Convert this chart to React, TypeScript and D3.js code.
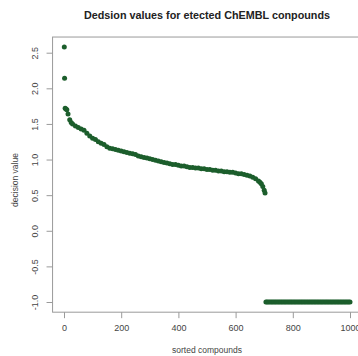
import { useEffect, useRef } from "react";
import * as d3 from "d3";

// sorted decision values (one every ~10 ranks)
const curveRanks = [
  1, 2, 4, 7, 10, 14, 20, 25, 30, 40, 50, 60, 70, 80, 90, 100, 110, 120, 130,
  140, 150, 160, 170, 180, 190, 200, 210, 220, 230, 240, 250, 260, 270, 280,
  290, 300, 310, 320, 330, 340, 350, 360, 370, 380, 390, 400, 410, 420, 430,
  440, 450, 460, 470, 480, 490, 500, 510, 520, 530, 540, 550, 560, 570, 580,
  590, 600, 610, 620, 630, 640, 650, 660, 670, 680, 685, 690, 695, 700, 703,
];
const curveValues = [
  2.58, 2.14, 1.72, 1.71, 1.7, 1.64, 1.56, 1.52, 1.5, 1.47, 1.45, 1.43, 1.41,
  1.37, 1.33, 1.3, 1.28, 1.25, 1.23, 1.21, 1.18, 1.16, 1.15, 1.14, 1.13, 1.12,
  1.11, 1.1, 1.09, 1.08, 1.07, 1.05, 1.04, 1.03, 1.02, 1.01, 1.0, 0.99, 0.98,
  0.97, 0.96, 0.95, 0.94, 0.93, 0.93, 0.92, 0.91, 0.91, 0.9, 0.89, 0.89, 0.88,
  0.88, 0.87, 0.87, 0.86, 0.86, 0.85, 0.85, 0.84, 0.84, 0.83, 0.83, 0.82, 0.82,
  0.81, 0.8, 0.8, 0.79, 0.78, 0.77, 0.75, 0.73, 0.7, 0.68, 0.66, 0.62, 0.57,
  0.53,
];
// compounds that got the floor value
const tailRanks = [
  706, 710, 715, 720, 725, 730, 735, 740, 745, 750, 755, 760, 765, 770, 775,
  780, 785, 790, 795, 800, 805, 810, 815, 820, 825, 830, 835, 840, 845, 850,
  855, 860, 865, 870, 875, 880, 885, 890, 895, 900, 905, 910, 915, 920, 925,
  930, 935, 940, 945, 950, 955, 960, 965, 970, 975, 980, 985, 990, 995, 1000,
];
const tailValues = [
  -1, -1, -1, -1, -1, -1, -1, -1, -1, -1, -1, -1, -1, -1, -1, -1, -1, -1, -1,
  -1, -1, -1, -1, -1, -1, -1, -1, -1, -1, -1, -1, -1, -1, -1, -1, -1, -1, -1,
  -1, -1, -1, -1, -1, -1, -1, -1, -1, -1, -1, -1, -1, -1, -1, -1, -1, -1, -1,
  -1, -1, -1,
];
const xTicks = [0, 200, 400, 600, 800, 1000];
const yTicks = [-1, -0.5, 0, 0.5, 1, 1.5, 2, 2.5];

const App = () => {
  const svgRef = useRef<SVGSVGElement>(null);

  useEffect(() => {
    const width = 358;
    const height = 356;
    const svg = d3.select(svgRef.current);
    svg.selectAll("*").remove();
    svg.attr("width", width).attr("height", height);

    const font = "'Liberation Sans', Arial, Helvetica, sans-serif";
    const x = d3.scaleLinear().domain([0, 1000]).range([64, 350]);
    const y = d3.scaleLinear().domain([-1, 2.5]).range([302, 52.7]);

    const left = x(-40);
    const right = x(1040);
    const top = y(2.72);
    const bottom = y(-1.143);

    svg
      .append("rect")
      .attr("width", width)
      .attr("height", height)
      .attr("fill", "#fff");

    // plot box
    svg
      .append("rect")
      .attr("x", left)
      .attr("y", top)
      .attr("width", right - left)
      .attr("height", bottom - top)
      .attr("fill", "none")
      .attr("stroke", "#9a9a9a")
      .attr("stroke-width", 1);

    // x axis
    const xAxis = svg
      .append("g")
      .attr("transform", `translate(0,${bottom})`)
      .call(
        d3
          .axisBottom(x)
          .tickValues(xTicks)
          .tickSize(6)
          .tickPadding(6)
          .tickFormat((d) => String(d))
      );
    xAxis.select(".domain").remove();
    xAxis.selectAll("line").attr("stroke", "#9a9a9a");
    xAxis
      .selectAll("text")
      .attr("fill", "#444")
      .style("font-family", font)
      .style("font-size", "9px");

    // y axis, labels rotated like base R
    const yAxis = svg
      .append("g")
      .attr("transform", `translate(${left},0)`)
      .call(
        d3
          .axisLeft(y)
          .tickValues(yTicks)
          .tickSize(6)
          .tickFormat((d) => (+d).toFixed(1))
      );
    yAxis.select(".domain").remove();
    yAxis.selectAll("line").attr("stroke", "#9a9a9a");
    yAxis
      .selectAll("text")
      .attr("x", 0)
      .attr("dy", null)
      .attr("text-anchor", "middle")
      .attr("transform", "translate(-15,0) rotate(-90)")
      .attr("fill", "#444")
      .style("font-family", font)
      .style("font-size", "9px");

    // points
    const points = curveRanks
      .map((r, i) => ({ r, v: curveValues[i] }))
      .concat(tailRanks.map((r, i) => ({ r, v: tailValues[i] })));

    svg
      .append("g")
      .selectAll("circle")
      .data(points)
      .enter()
      .append("circle")
      .attr("cx", (d) => x(d.r))
      .attr("cy", (d) => y(d.v))
      .attr("r", 2.5)
      .attr("fill", "#1c5e2c");

    // titles
    svg
      .append("text")
      .attr("x", 207)
      .attr("y", 19)
      .attr("text-anchor", "middle")
      .attr("textLength", 246)
      .attr("lengthAdjust", "spacingAndGlyphs")
      .style("font-family", font)
      .style("font-size", "11px")
      .style("font-weight", "bold")
      .attr("fill", "#222")
      .text("Dedsion values for etected ChEMBL conpounds");

    svg
      .append("text")
      .attr("x", 207)
      .attr("y", 353)
      .attr("text-anchor", "middle")
      .style("font-family", font)
      .style("font-size", "8.5px")
      .attr("fill", "#444")
      .text("sorted compounds");

    svg
      .append("text")
      .attr("transform", "translate(18,180) rotate(-90)")
      .attr("text-anchor", "middle")
      .style("font-family", font)
      .style("font-size", "8.5px")
      .attr("fill", "#444")
      .text("decision value");
  }, []);

  return (
    <svg
      ref={svgRef}
      style={{ position: "absolute", left: 0, top: 0, display: "block" }}
    ></svg>
  );
};

export default App;
